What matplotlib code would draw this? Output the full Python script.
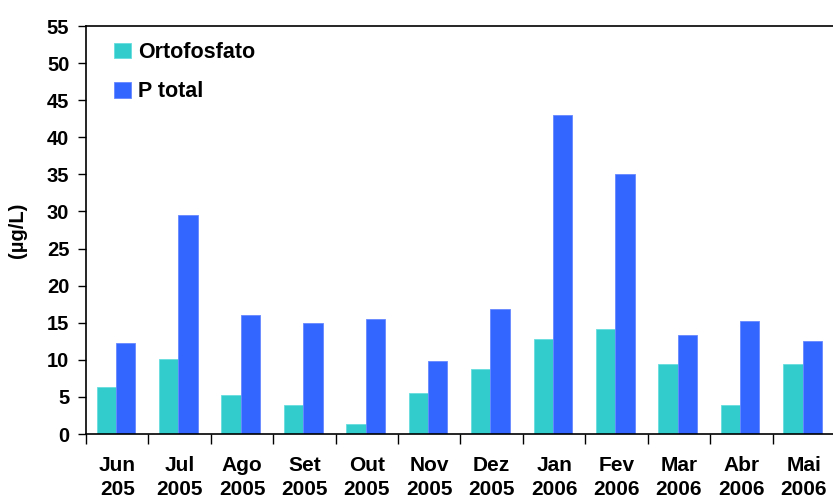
import matplotlib
matplotlib.use("Agg")
import matplotlib.pyplot as plt
import numpy as np

months = ["Jun", "Jul", "Ago", "Set", "Out", "Nov", "Dez", "Jan", "Fev", "Mar", "Abr", "Mai"]
years = ["205", "2005", "2005", "2005", "2005", "2005", "2005", "2006", "2006", "2006", "2006", "2006"]
ortofosfato = [6.3, 10.1, 5.2, 3.9, 1.4, 5.5, 8.7, 12.8, 14.1, 9.5, 3.9, 9.5]
p_total = [12.2, 29.5, 16.0, 14.9, 15.5, 9.8, 16.8, 43.0, 35.1, 13.3, 15.2, 12.5]

plt.rcParams['font.family'] = ['Liberation Sans', 'DejaVu Sans']
plt.rcParams['font.weight'] = 'bold'

fig = plt.figure(figsize=(8.33, 5.04), dpi=100)
ax = fig.add_axes([86/833, 70/504, 749/833, 408/504])

x = np.arange(len(months))
w = 0.31
off = -0.02
ax.bar(x + off - w/2, ortofosfato, width=w, color="#33CCCC", edgecolor="#66DDDD", linewidth=0.6, label="Ortofosfato")
ax.bar(x + off + w/2, p_total, width=w, color="#3366FF", edgecolor="#6688FF", linewidth=0.6, label="P total")

ax.set_xlim(-0.5, len(months) - 0.5)
ax.set_ylim(0, 55)
ax.set_yticks(np.arange(0, 56, 5))
ax.tick_params(axis='y', labelsize=14.5, length=6, width=1, direction='out', pad=6)
ax.set_xticks(x)
ax.set_xticklabels([f"{m}\n{y}" for m, y in zip(months, years)], fontsize=15, fontweight='bold', linespacing=1.3)
ax.tick_params(axis='x', which='major', length=0, pad=16)
ax.set_xticks(np.arange(-0.5, len(months), 1.0), minor=True)
ax.tick_params(axis='x', which='minor', length=7, width=1, direction='out')
for lab in ax.get_yticklabels():
    lab.set_fontweight('bold')

for s in ax.spines.values():
    s.set_linewidth(1.2)
    s.set_color('black')

ax.set_ylabel("(µg/L)", fontsize=14.5, fontweight='bold', labelpad=14)

leg = ax.legend(loc='upper left', bbox_to_anchor=(0.012, 1.008), frameon=False,
                prop={'size': 15.5, 'weight': 'bold'}, handlelength=0.75, handleheight=0.75,
                handletextpad=0.35, labelspacing=0.85)

fig.savefig("out.png", dpi=100)
